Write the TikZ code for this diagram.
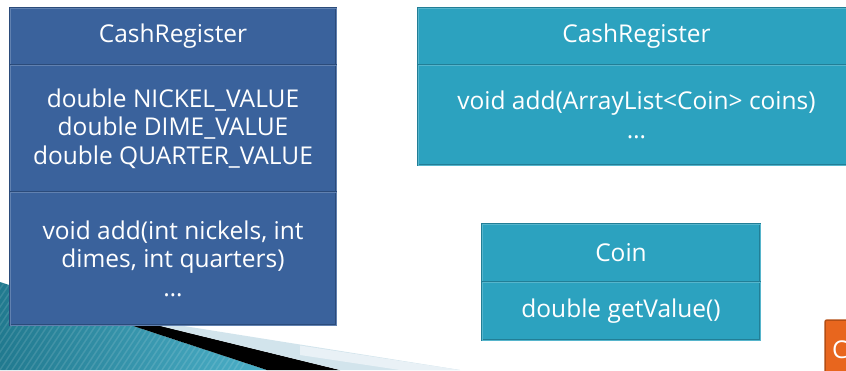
\documentclass[tikz,border=0pt]{standalone}
\usepackage{xcolor}
\usepackage{fontspec}
\setmainfont{Open Sans}
\usetikzlibrary{positioning}

\definecolor{navyfill}{HTML}{3A629C}
\definecolor{navyline}{HTML}{2B4B7A}
\definecolor{tealfill}{HTML}{2CA2BF}
\definecolor{tealline}{HTML}{227E96}
\definecolor{orangefill}{HTML}{E8661E}
\definecolor{orangeline}{HTML}{B44E14}
\definecolor{swooshlight}{HTML}{D2E4EC}

\tikzset{
  part/.style={draw, rectangle, outer sep=0pt, inner sep=4pt, text=white, align=center,
    line width=1pt, double distance=0.7pt,
    font=\fontsize{24.5}{28.5}\selectfont},
  navypart/.style={part, fill=navyfill, draw=navyline, double=navyfill!80!white},
  tealpart/.style={part, fill=tealfill, draw=tealline, double=tealfill!80!white},
}

\begin{document}
\begin{tikzpicture}[x=1pt, y=-1pt]
    \useasboundingbox (0,0) rectangle (846,370);

    % slide swoosh in the corner
    \shade[left color=tealfill!75!black, right color=tealfill!85!white]
        (0,282) -- (267,370) -- (0,370) -- cycle;
    \begin{scope}
        \clip (0,282) -- (267,370) -- (0,370) -- cycle;
        \foreach \s in {0,6,...,300}
            \draw[white, opacity=0.12, line width=1.5pt] (\s-60,370) -- (\s,280);
    \end{scope}
    \fill[black] (100,315) -- (267,370) -- (340,370) -- (100,311) -- cycle;
    \fill[swooshlight] (140,321) -- (340,370) -- (460,370) -- (140,319) -- cycle;
    \fill[swooshlight!50!white] (300,345.5) -- (460,370) -- (400,370) -- (300,355) -- cycle;

    % old cash register
    \node (crTitle) [navypart, minimum width=326, minimum height=57] at (173,36.5) {CashRegister};
    \node (crFields) [navypart, minimum width=326, minimum height=127, below=0pt of crTitle]
        {double NICKEL\_VALUE\\double DIME\_VALUE\\double QUARTER\_VALUE};
    \node (crMethods) [navypart, minimum width=326, minimum height=133, below=0pt of crFields]
        {void add(int nickels, int\\dimes, int quarters)\\\dots};

    % new cash register
    \node (newTitle) [tealpart, minimum width=437, minimum height=57] at (636.5,36.5) {CashRegister};
    \node (newMethods) [tealpart, minimum width=437, minimum height=100, below=0pt of newTitle]
        {void add(ArrayList<Coin> coins)\\\dots};

    % coin
    \node (coinTitle) [tealpart, minimum width=278, minimum height=58] at (621,253) {Coin};
    \node (coinMethods) [tealpart, minimum width=278, minimum height=58, below=0pt of coinTitle]
        {double getValue()};

    % box cut off at the edge
    \node (nextBox) [draw=orangeline, fill=orangefill, line width=1.5pt, rounded corners=2pt,
        minimum width=50, minimum height=60, text=white, font=\fontsize{24.5}{28}\selectfont,
        text width=36, inner sep=4pt] at (850,350) {C};
\end{tikzpicture}
\end{document}
